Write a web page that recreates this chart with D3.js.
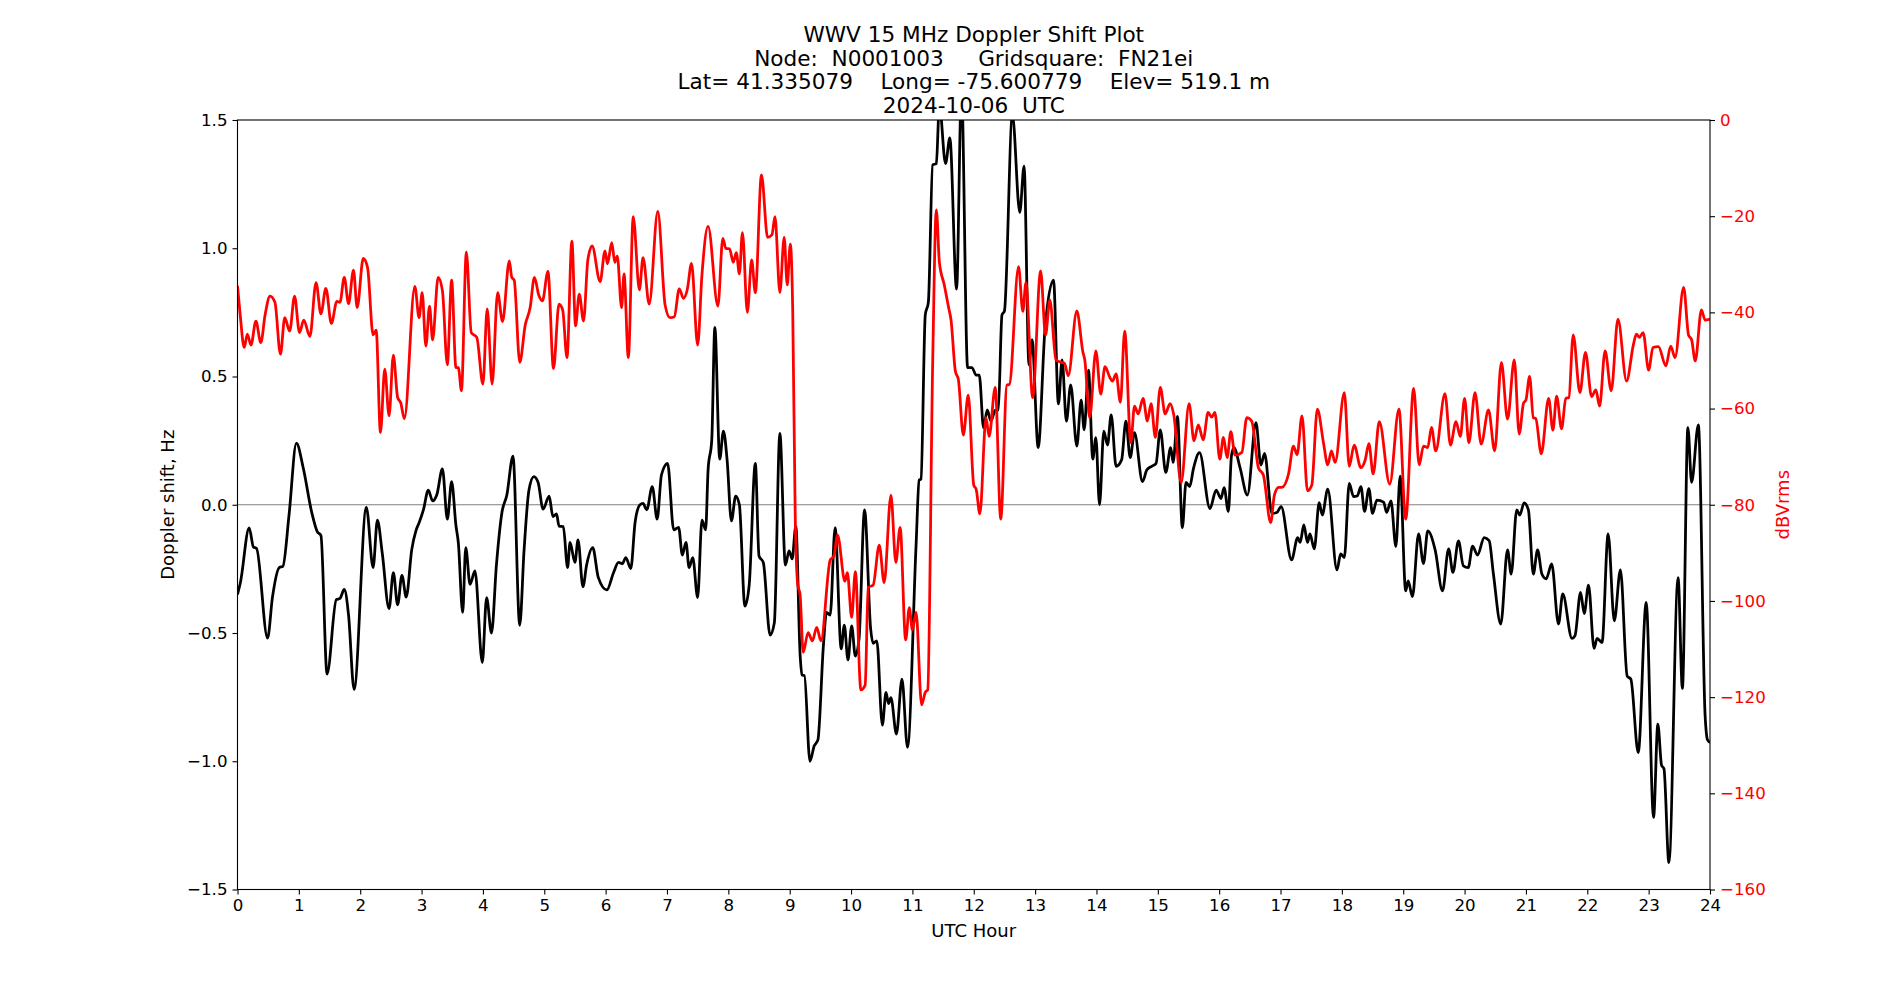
<!DOCTYPE html>
<html>
<head>
<meta charset="utf-8">
<script src="https://cdn.jsdelivr.net/npm/d3@7"></script>
<style>
  body { margin: 0; background: white; }
  text { font-family: "DejaVu Sans", sans-serif; }
</style>
</head>
<body>
<div id="chart"></div>
<script>
// title lines
let titleLines = [
  "WWV 15 MHz Doppler Shift Plot",
  "Node:  N0001003     Gridsquare:  FN21ei",
  "Lat= 41.335079    Long= -75.600779    Elev= 519.1 m",
  "2024-10-06  UTC"
];

let hourTicks = d3.range(0, 25);
let shiftTicks = [-1.5, -1.0, -0.5, 0.0, 0.5, 1.0, 1.5];
let dbTicks = [0, -20, -40, -60, -80, -100, -120, -140, -160];

// Doppler shift (Hz) vs UTC hour
let dopplerPts = [
  [0.00,-0.35],[0.05,-0.30],[0.19,-0.09],[0.26,-0.165],[0.31,-0.17],[0.49,-0.52],[0.57,-0.36],[0.68,-0.245],
  [0.74,-0.24],[0.84,-0.04],[0.96,0.24],[1.07,0.145],[1.21,-0.03],[1.30,-0.105],[1.36,-0.12],[1.46,-0.66],
  [1.61,-0.37],[1.67,-0.365],[1.74,-0.33],[1.81,-0.43],[1.90,-0.72],[2.10,-0.01],[2.21,-0.245],[2.28,-0.06],
  [2.36,-0.19],[2.47,-0.405],[2.54,-0.265],[2.61,-0.39],[2.68,-0.275],[2.75,-0.36],[2.84,-0.175],[2.91,-0.10],
  [2.96,-0.07],[3.03,-0.02],[3.11,0.057],[3.18,0.015],[3.25,0.04],[3.34,0.14],[3.42,-0.056],[3.49,0.09],
  [3.56,-0.08],[3.60,-0.15],[3.67,-0.42],[3.72,-0.167],[3.79,-0.31],[3.87,-0.258],[3.99,-0.615],[4.06,-0.362],
  [4.14,-0.50],[4.22,-0.235],[4.31,-0.03],[4.39,0.038],[4.49,0.19],[4.60,-0.47],[4.67,-0.18],[4.75,0.057],
  [4.83,0.11],[4.90,0.087],[4.98,-0.017],[5.08,0.034],[5.14,-0.046],[5.20,-0.036],[5.24,-0.083],[5.31,-0.085],
  [5.38,-0.245],[5.42,-0.147],[5.50,-0.225],[5.55,-0.137],[5.63,-0.32],[5.69,-0.235],[5.79,-0.167],[5.88,-0.283],
  [6.02,-0.332],[6.13,-0.264],[6.21,-0.225],[6.27,-0.23],[6.33,-0.206],[6.41,-0.249],[6.48,-0.069],[6.56,0.0],
  [6.61,0.005],[6.67,-0.02],[6.76,0.071],[6.84,-0.056],[6.91,0.116],[7.01,0.161],[7.11,-0.098],[7.19,-0.088],
  [7.25,-0.196],[7.31,-0.147],[7.36,-0.245],[7.42,-0.206],[7.50,-0.362],[7.57,-0.06],[7.63,-0.098],[7.67,0.136],
  [7.73,0.253],[7.78,0.691],[7.86,0.178],[7.92,0.287],[7.98,0.175],[8.05,-0.063],[8.12,0.034],[8.18,0.0],
  [8.27,-0.395],[8.34,-0.313],[8.44,0.161],[8.50,-0.2],[8.57,-0.225],[8.68,-0.508],[8.75,-0.46],[8.84,0.278],
  [8.93,-0.235],[8.99,-0.18],[9.04,-0.211],[9.10,-0.083],[9.17,-0.585],[9.20,-0.664],[9.24,-0.666],[9.33,-1.00],
  [9.40,-0.94],[9.46,-0.917],[9.55,-0.547],[9.60,-0.42],[9.66,-0.43],[9.74,-0.089],[9.84,-0.562],[9.89,-0.469],
  [9.95,-0.605],[10.01,-0.472],[10.07,-0.59],[10.13,-0.524],[10.22,-0.02],[10.32,-0.485],[10.36,-0.54],[10.42,-0.531],
  [10.51,-0.859],[10.57,-0.732],[10.61,-0.775],[10.65,-0.752],[10.74,-0.894],[10.83,-0.68],[10.92,-0.946],[11.06,-0.157],
  [11.11,0.096],[11.14,0.10],[11.21,0.74],[11.26,0.789],[11.33,1.325],[11.39,1.33],[11.44,1.56],[11.54,1.33],
  [11.61,1.43],[11.72,0.841],[11.80,1.62],[11.90,0.535],[11.97,0.535],[12.04,0.505],[12.09,0.505],[12.16,0.30],
  [12.22,0.37],[12.28,0.326],[12.35,0.368],[12.40,0.37],[12.46,0.74],[12.50,0.755],[12.63,1.52],[12.75,1.14],
  [12.82,1.32],[12.90,0.545],[12.95,0.643],[13.05,0.223],[13.16,0.681],[13.30,0.876],[13.38,0.393],[13.44,0.565],
  [13.51,0.326],[13.58,0.467],[13.68,0.229],[13.75,0.408],[13.80,0.292],[13.87,0.525],[13.94,0.178],[13.99,0.262],
  [14.05,0.0],[14.12,0.287],[14.18,0.233],[14.24,0.35],[14.32,0.15],[14.41,0.175],[14.48,0.326],[14.55,0.184],
  [14.62,0.281],[14.75,0.09],[14.82,0.135],[14.90,0.15],[14.97,0.16],[15.04,0.292],[15.13,0.126],[15.21,0.223],
  [15.25,0.165],[15.32,0.344],[15.40,-0.089],[15.46,0.087],[15.52,0.071],[15.58,0.14],[15.68,0.203],[15.85,-0.015],
  [15.95,0.057],[16.03,0.024],[16.08,0.067],[16.15,-0.026],[16.20,0.19],[16.24,0.223],[16.34,0.145],[16.46,0.038],
  [16.60,0.32],[16.68,0.155],[16.74,0.2],[16.86,-0.034],[16.94,-0.03],[17.01,-0.007],[17.18,-0.215],[17.28,-0.128],
  [17.32,-0.147],[17.38,-0.079],[17.44,-0.147],[17.48,-0.114],[17.55,-0.172],[17.63,0.008],[17.68,-0.04],[17.77,0.061],
  [17.92,-0.254],[17.98,-0.192],[18.04,-0.206],[18.12,0.083],[18.19,0.032],[18.25,0.034],[18.31,0.071],[18.37,-0.026],
  [18.44,0.063],[18.50,-0.034],[18.57,0.018],[18.68,0.01],[18.73,-0.03],[18.80,0.015],[18.88,-0.163],[18.95,0.112],
  [19.04,-0.336],[19.08,-0.297],[19.15,-0.358],[19.25,-0.114],[19.33,-0.229],[19.40,-0.102],[19.52,-0.176],[19.64,-0.336],
  [19.74,-0.172],[19.81,-0.264],[19.90,-0.141],[19.98,-0.238],[20.06,-0.245],[20.13,-0.161],[20.21,-0.196],[20.32,-0.128],
  [20.40,-0.14],[20.47,-0.27],[20.59,-0.465],[20.70,-0.176],[20.76,-0.27],[20.85,-0.02],[20.90,-0.04],[20.97,0.007],
  [21.04,-0.02],[21.12,-0.27],[21.19,-0.176],[21.26,-0.27],[21.33,-0.289],[21.42,-0.231],[21.53,-0.465],[21.60,-0.348],
  [21.75,-0.521],[21.80,-0.51],[21.89,-0.342],[21.95,-0.424],[22.02,-0.313],[22.11,-0.56],[22.16,-0.521],[22.24,-0.537],
  [22.34,-0.114],[22.44,-0.453],[22.54,-0.254],[22.65,-0.668],[22.71,-0.68],[22.83,-0.966],[22.96,-0.381],[23.08,-1.219],
  [23.15,-0.855],[23.21,-1.015],[23.25,-1.03],[23.33,-1.395],[23.48,-0.284],[23.55,-0.716],[23.64,0.301],[23.70,0.087],
  [23.81,0.311],[23.92,-0.82],[23.96,-0.917],[24.00,-0.927]
];

// received level (dBVrms) vs UTC hour
let powerPts = [
  [0.00,-34.5],[0.04,-40],[0.11,-47.3],[0.16,-44.5],[0.22,-46.8],[0.30,-41.8],[0.38,-46.3],[0.45,-40.5],
  [0.53,-36.6],[0.61,-37.9],[0.70,-48.7],[0.77,-41.1],[0.85,-43.9],[0.93,-36.6],[1.01,-44.2],[1.08,-41.6],
  [1.18,-45.0],[1.28,-33.8],[1.36,-40.3],[1.44,-35.0],[1.53,-42.3],[1.62,-37.7],[1.67,-37.9],[1.74,-32.7],
  [1.81,-38.2],[1.89,-31.2],[1.95,-39.0],[2.05,-28.8],[2.12,-30.7],[2.21,-44.7],[2.26,-43.7],[2.33,-65.0],
  [2.40,-51.8],[2.47,-61.5],[2.54,-48.9],[2.61,-57.7],[2.66,-58.8],[2.72,-62.1],[2.89,-34.6],[2.96,-41.1],
  [3.01,-35.9],[3.07,-47.0],[3.13,-38.7],[3.18,-45.7],[3.27,-32.7],[3.34,-35.5],[3.42,-50.9],[3.49,-33.3],
  [3.56,-51.5],[3.60,-51.5],[3.65,-56.3],[3.73,-27.5],[3.81,-44.2],[3.90,-45.2],[4.00,-54.9],[4.07,-39.3],
  [4.15,-54.9],[4.24,-35.9],[4.32,-41.9],[4.43,-29.3],[4.47,-32.7],[4.51,-33.3],[4.60,-50.4],[4.69,-42.6],
  [4.77,-39.0],[4.84,-32.7],[4.91,-36.4],[4.97,-37.6],[5.06,-31.5],[5.15,-51.7],[5.24,-38.3],[5.30,-39.5],
  [5.37,-49.4],[5.45,-25.2],[5.51,-42.8],[5.57,-36.2],[5.64,-41.8],[5.71,-29.1],[5.78,-26.2],[5.91,-33.6],
  [5.99,-27.2],[6.03,-29.9],[6.10,-25.5],[6.15,-29.6],[6.19,-28.3],[6.26,-39.0],[6.30,-32.0],[6.37,-49.4],
  [6.45,-20.1],[6.55,-35.3],[6.61,-28.6],[6.71,-38.3],[6.85,-19.0],[6.97,-38.5],[7.05,-41.1],[7.12,-40.9],
  [7.20,-35.1],[7.27,-37.1],[7.33,-35.3],[7.40,-29.8],[7.50,-46.8],[7.57,-32.2],[7.67,-22.1],[7.83,-38.7],
  [7.91,-24.6],[7.96,-26.7],[8.02,-26.8],[8.08,-29.6],[8.13,-27.6],[8.18,-32.0],[8.23,-23.4],[8.31,-40.0],
  [8.38,-29.1],[8.44,-35.9],[8.54,-11.4],[8.64,-24.4],[8.71,-23.9],[8.76,-20.1],[8.84,-35.9],[8.91,-24.4],
  [8.96,-34.3],[9.01,-25.8],[9.05,-40],[9.09,-82],[9.13,-96.5],[9.17,-98.8],[9.22,-110.7],[9.30,-106.6],
  [9.37,-108.3],[9.44,-105.5],[9.51,-108.3],[9.66,-91.5],[9.72,-90.7],[9.78,-86.3],[9.90,-95.9],[9.94,-94.1],
  [10.01,-103.4],[10.07,-93.9],[10.16,-118.5],[10.23,-117.5],[10.28,-97.2],[10.36,-96.7],[10.46,-88.4],[10.54,-96.2],
  [10.65,-78.0],[10.73,-92.0],[10.80,-84.7],[10.89,-108.1],[10.95,-101.4],[11.00,-106.0],[11.06,-102.4],[11.15,-121.6],
  [11.21,-119.0],[11.25,-118.5],[11.33,-51],[11.39,-18.7],[11.44,-29.6],[11.52,-34.3],[11.59,-39],[11.63,-41.6],
  [11.70,-52.2],[11.75,-54],[11.83,-65.5],[11.91,-57.2],[12.00,-75.9],[12.04,-76.8],[12.10,-81.9],[12.20,-61.9],
  [12.25,-65.8],[12.35,-55.6],[12.44,-83.0],[12.54,-55.1],[12.58,-55],[12.73,-30.5],[12.80,-39.8],[12.85,-33.8],
  [12.96,-57.7],[13.09,-31.4],[13.17,-44.7],[13.24,-37.4],[13.34,-49.9],[13.43,-50.4],[13.48,-50.6],[13.54,-53.2],
  [13.68,-39.7],[13.78,-48.3],[13.81,-49.9],[13.89,-61.9],[13.99,-48.0],[14.07,-57.0],[14.14,-51.3],[14.22,-53.6],
  [14.26,-54.3],[14.32,-52.8],[14.39,-58.7],[14.46,-43.9],[14.56,-67.1],[14.62,-59.5],[14.68,-61.1],[14.76,-57.9],
  [14.83,-62.6],[14.89,-59.0],[14.96,-66.0],[15.04,-55.6],[15.12,-61.1],[15.20,-59.0],[15.26,-61.3],[15.38,-75.4],
  [15.51,-59.0],[15.59,-66.7],[15.66,-63.4],[15.74,-66.5],[15.82,-60.8],[15.88,-61.8],[15.93,-60.8],[16.01,-70.5],
  [16.07,-66.0],[16.13,-70.2],[16.19,-64.8],[16.26,-69.7],[16.37,-69.1],[16.45,-61.9],[16.53,-62.6],[16.64,-72.3],
  [16.72,-73.8],[16.84,-83.7],[16.90,-78],[16.97,-76.4],[17.02,-76.4],[17.13,-73.6],[17.21,-67.8],[17.27,-69.6],
  [17.35,-61.5],[17.44,-77.1],[17.51,-75.9],[17.60,-60.1],[17.70,-67.1],[17.77,-71.7],[17.83,-68.8],[17.89,-71.2],
  [18.04,-56.7],[18.12,-72.0],[18.20,-67.6],[18.31,-72.3],[18.38,-70.7],[18.44,-67.3],[18.51,-73.6],[18.61,-62.7],
  [18.78,-75.7],[18.93,-60.1],[19.04,-83.0],[19.17,-55.8],[19.26,-71.7],[19.33,-67.8],[19.40,-68.1],[19.46,-63.9],
  [19.53,-68.8],[19.68,-56.9],[19.77,-67.6],[19.86,-62.7],[19.93,-65.8],[20.00,-57.9],[20.07,-67.1],[20.17,-56.7],
  [20.27,-67.4],[20.39,-60.3],[20.49,-68.8],[20.60,-50.4],[20.70,-62.2],[20.81,-49.9],[20.89,-65.3],[20.96,-58.9],
  [21.00,-58.2],[21.06,-53.3],[21.12,-61.9],[21.16,-62.1],[21.25,-69.4],[21.37,-57.9],[21.44,-64.5],[21.50,-57.4],
  [21.58,-64.2],[21.65,-57.9],[21.70,-57.7],[21.77,-44.7],[21.88,-56.7],[21.97,-48.3],[22.07,-57.5],[22.14,-56.1],
  [22.20,-59.5],[22.29,-48.0],[22.39,-56.3],[22.50,-41.4],[22.64,-54.3],[22.75,-46.8],[22.80,-44.5],[22.85,-45.2],
  [22.91,-44.2],[23.00,-52.0],[23.07,-47.3],[23.16,-47.1],[23.28,-51.1],[23.36,-47.0],[23.43,-49.4],[23.57,-34.8],
  [23.65,-44.7],[23.70,-45.7],[23.76,-50.1],[23.86,-39.5],[23.92,-41.6],[24.00,-41.4]
];

let margin = { top: 120, left: 237.5, right: 190, bottom: 110.5 },
  width = 1900 - margin.left - margin.right,
  height = 1000 - margin.top - margin.bottom;

let svg = d3.select('#chart')
  .append('svg')
  .attr('width', 1900)
  .attr('height', 1000)
  .style('background-color', 'white');

let g = svg.append('g')
  .attr('transform', 'translate(' + margin.left + ',' + margin.top + ')');

let x = d3.scaleLinear().domain([0, 24]).range([0, width]),
    y = d3.scaleLinear().domain([-1.5, 1.5]).range([height, 0]),
    y2 = d3.scaleLinear().domain([-160, 0]).range([height, 0]);

// clip lines to the axes box
svg.append('defs').append('clipPath').attr('id', 'plotclip')
  .append('rect').attr('width', width).attr('height', height);

// zero reference line
g.append('line')
  .attr('x1', 0).attr('x2', width)
  .attr('y1', y(0)).attr('y2', y(0))
  .attr('stroke', 'gray').attr('stroke-width', 1.2);

let lineBlack = d3.line()
  .x(function(d) { return x(d[0]); })
  .y(function(d) { return y(d[1]); })
  .curve(d3.curveMonotoneX);

let lineRed = d3.line()
  .x(function(d) { return x(d[0]); })
  .y(function(d) { return y2(d[1]); })
  .curve(d3.curveMonotoneX);

g.append('path')
  .datum(dopplerPts)
  .attr('clip-path', 'url(#plotclip)')
  .attr('fill', 'none')
  .attr('stroke', 'black')
  .attr('stroke-width', 2.78)
  .attr('stroke-linejoin', 'round')
  .attr('d', lineBlack);

g.append('path')
  .datum(powerPts)
  .attr('clip-path', 'url(#plotclip)')
  .attr('fill', 'none')
  .attr('stroke', 'red')
  .attr('stroke-width', 2.78)
  .attr('stroke-linejoin', 'round')
  .attr('d', lineRed);

// axes
let fs = '16.67px';

let xAxis = g.append('g')
  .attr('transform', 'translate(0,' + height + ')')
  .call(d3.axisBottom(x).tickValues(hourTicks).tickFormat(d3.format('d')).tickSizeOuter(0).tickSize(5).tickPadding(5));

let yAxis = g.append('g')
  .call(d3.axisLeft(y).tickValues(shiftTicks).tickFormat(d3.format('.1f')).tickSizeOuter(0).tickSize(5).tickPadding(5));

let yAxis2 = g.append('g')
  .attr('transform', 'translate(' + width + ',0)')
  .call(d3.axisRight(y2).tickValues(dbTicks).tickFormat(d3.format('d')).tickSizeOuter(0).tickSize(5).tickPadding(5));

[xAxis, yAxis, yAxis2].forEach(function(a) {
  a.selectAll('text').style('font-size', fs).style('font-family', '"DejaVu Sans", sans-serif');
  a.select('.domain').remove();
  a.selectAll('.tick line').attr('stroke', 'black').attr('stroke-width', 1.1);
});
yAxis2.selectAll('text').attr('fill', 'red');

// frame
g.append('rect')
  .attr('width', width).attr('height', height)
  .attr('fill', 'none').attr('stroke', 'black').attr('stroke-width', 1.1);

// labels
let lfs = '18px';

svg.append('text')
  .attr('x', margin.left + width / 2).attr('y', 937)
  .attr('text-anchor', 'middle').style('font-size', lfs)
  .text('UTC Hour');

svg.append('text')
  .attr('transform', 'translate(174,' + (margin.top + height / 2) + ') rotate(-90)')
  .attr('text-anchor', 'middle').style('font-size', lfs)
  .text('Doppler shift, Hz');

svg.append('text')
  .attr('transform', 'translate(1789,' + (margin.top + height / 2) + ') rotate(-90)')
  .attr('text-anchor', 'middle').style('font-size', lfs).attr('fill', 'red')
  .text('dBVrms');

svg.selectAll('.title')
  .data(titleLines)
  .enter().append('text')
  .attr('class', 'title')
  .attr('x', margin.left + width / 2)
  .attr('y', function(d, i) { return 42 + i * 23.5; })
  .attr('text-anchor', 'middle')
  .style('font-size', '21.6px')
  .style('white-space', 'pre')
  .attr('xml:space', 'preserve')
  .text(function(d) { return d; });
</script>
</body>
</html>
